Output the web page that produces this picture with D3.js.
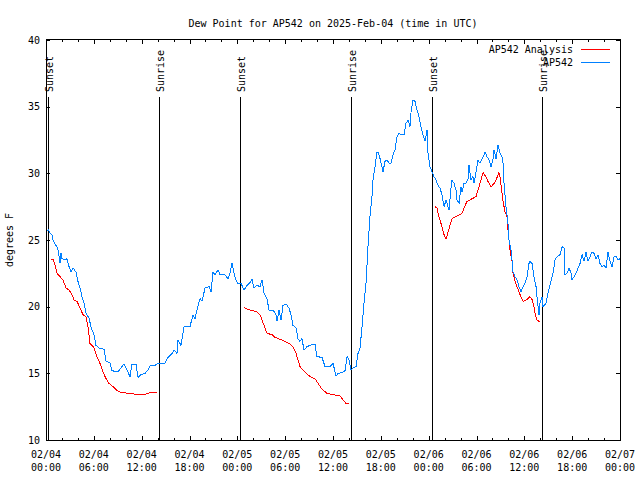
<!DOCTYPE html>
<html><head><meta charset="utf-8">
<script src="https://cdn.jsdelivr.net/npm/d3@7"></script>
<style>
body{margin:0;background:#fff}
svg text{font-family:"DejaVu Sans Mono",monospace;font-size:10px;fill:#000}
</style></head><body>
<svg id="c" width="640" height="480"></svg>
<script>
const title = "Dew Point for AP542 on 2025-Feb-04 (time in UTC)";
const yLabel = "degrees F";
const yTicks = [10, 15, 20, 25, 30, 35, 40];
const seriesNames = ["AP542 Analysis", "AP542"];
const seriesColors = ["#ff0000", "#0080ff"];
const sunHours = [0.25, 14.17, 24.33, 38.26, 48.42, 62.22];
const sunLabels = ["Sunset", "Sunrise", "Sunset", "Sunrise", "Sunset", "Sunrise"];

// hours after 2025-02-04 00:00 UTC
const blueHours = [0.13,0.29,0.50,0.75,0.88,1.13,1.38,1.51,1.76,1.88,2.01,2.38,2.63,2.89,3.14,3.39,3.76,4.01,4.26,4.52,4.77,5.02,5.39,5.64,5.77,6.02,6.27,6.65,7.28,7.53,8.03,8.28,9.03,9.41,9.78,10.16,10.54,10.79,11.29,11.54,11.92,12.42,12.79,13.05,13.67,13.92,14.30,14.93,15.18,15.81,16.06,16.43,16.56,16.93,17.31,18.06,18.44,18.69,18.94,19.32,19.57,19.95,20.45,20.70,20.95,21.20,21.58,21.83,22.45,22.83,23.08,23.33,23.58,23.83,24.08,24.46,24.84,25.21,25.59,25.84,26.09,26.47,26.84,27.10,27.35,27.72,27.97,28.47,28.85,28.98,29.23,29.48,29.73,30.11,30.48,30.73,30.98,31.36,31.61,31.86,32.11,32.36,32.74,33.12,33.74,33.99,34.62,35.00,35.62,36.00,36.38,36.63,37.13,37.51,37.76,38.01,38.26,38.51,38.89,39.14,39.39,39.64,39.89,40.14,40.39,40.64,40.89,41.02,41.27,41.52,41.65,41.90,42.15,42.27,42.52,42.78,43.03,43.28,43.53,43.78,44.03,44.28,44.53,44.91,45.16,45.41,45.66,45.79,46.04,46.29,46.54,46.79,47.04,47.29,47.54,47.79,47.92,48.17,48.42,48.67,48.92,49.17,49.42,49.67,49.93,50.18,50.43,50.55,50.80,50.93,51.18,51.43,51.56,51.81,52.06,52.18,52.43,52.68,52.94,53.06,53.31,53.56,53.69,53.94,54.19,54.44,54.69,54.94,55.07,55.32,55.57,55.82,56.07,56.20,56.45,56.70,56.95,57.20,57.33,57.45,57.70,57.95,58.08,58.33,58.46,58.58,58.83,59.08,59.33,59.58,59.84,60.09,60.34,60.59,60.71,60.96,61.21,61.47,61.59,61.72,61.84,61.97,62.22,62.34,62.72,62.97,63.22,63.60,63.85,64.10,64.48,64.73,64.98,65.10,65.35,65.61,65.86,65.98,66.23,66.48,66.73,66.99,67.24,67.49,67.74,67.99,68.24,68.49,68.74,68.99,69.24,69.49,69.74,70.00,70.25,70.50,70.75,71.00,71.25,71.50,71.75,72.00];
const blueValues = [25.7,25.75,25.5,25.4,25.0,24.7,24.5,24.25,23.3,24.0,23.6,23.5,23.6,23.0,22.6,22.9,22.6,21.9,21.4,20.75,20.3,19.5,19.15,18.5,18.25,17.9,17.1,16.9,16.8,15.9,15.8,15.2,15.1,15.4,15.7,15.25,14.75,15.7,15.7,14.7,14.9,15.0,15.25,15.55,15.6,15.7,15.75,15.75,16.1,16.5,16.75,16.5,17.5,17.1,18.5,18.5,19.4,19.1,19.75,20.6,20.4,21.4,21.5,21.1,22.6,22.4,22.75,22.4,22.4,22.1,22.5,23.3,22.5,22.0,21.75,21.75,21.25,21.6,21.8,22.05,21.4,21.6,21.5,22.0,21.0,20.6,19.75,19.75,19.4,18.9,19.75,19.0,20.1,20.2,19.9,19.4,18.6,18.4,17.6,17.4,17.6,16.75,17.0,17.1,17.2,16.25,16.2,15.5,15.5,15.75,14.8,15.0,15.05,15.2,16.25,16.0,15.25,15.4,15.5,16.5,16.9,18.5,20.25,21.75,24.5,26.75,28.25,29.5,30.5,31.6,31.6,31.1,30.5,30.1,30.9,31.0,30.75,30.75,31.4,31.75,32.75,33.0,32.9,32.9,33.75,34.0,33.5,34.6,35.5,35.4,34.75,34.25,33.5,32.9,32.4,33.25,31.5,30.5,30.1,29.75,29.5,29.1,28.9,28.4,27.5,28.0,27.5,27.25,28.9,29.5,29.25,28.75,28.0,27.75,29.0,28.6,29.25,29.25,29.6,30.6,29.5,29.75,29.25,30.1,31.0,30.75,31.1,31.4,31.6,31.25,31.0,30.5,31.1,31.75,31.1,32.1,31.5,31.25,30.75,29.25,27.5,26.25,25.0,24.25,23.5,22.6,22.25,22.0,21.5,21.1,21.5,21.75,22.25,23.25,23.4,23.25,22.25,21.5,20.75,20.0,19.4,20.3,20.75,20.0,20.25,21.0,21.6,22.5,23.5,23.75,23.9,24.5,24.4,22.4,22.5,22.9,22.5,22.0,22.25,22.5,22.9,23.25,23.9,23.4,24.1,23.4,23.75,24.1,24.0,23.6,23.9,23.25,23.0,23.1,22.9,24.1,23.4,23.0,23.75,23.75,23.5,23.6];

// null marks a gap in the analysis series
const redHours = [0.63,0.88,1.13,1.38,1.76,2.13,2.51,2.89,3.26,3.51,3.89,4.26,4.64,5.02,5.27,5.52,5.77,6.02,6.40,6.77,7.15,7.53,7.90,8.40,8.91,9.53,10.54,11.42,12.54,13.05,13.92,
  null,
  24.84,25.34,25.84,26.34,26.84,27.10,27.47,27.72,28.35,28.73,29.35,29.98,30.61,30.98,31.36,31.61,31.86,32.49,33.12,33.74,34.12,34.62,35.25,36.00,36.88,37.26,37.63,38.01,
  null,
  48.80,49.05,49.17,49.42,49.67,49.93,50.18,50.43,50.68,50.93,51.43,51.93,52.18,52.43,52.81,53.31,53.94,54.19,54.44,54.82,55.19,55.44,55.82,56.20,56.45,56.82,56.95,57.20,57.33,57.58,57.83,57.95,58.20,58.46,58.58,58.83,59.08,59.33,59.58,59.84,60.21,60.46,60.71,60.96,61.21,61.34,61.59,61.84,61.97];
const redValues = [23.55,23.55,23.1,22.5,22.25,22.0,21.4,21.25,20.9,20.5,20.4,19.9,19.4,19.25,18.5,17.25,17.1,16.9,16.25,15.75,15.1,14.6,14.25,14.0,13.7,13.55,13.5,13.4,13.45,13.55,13.6,
  null,
  19.95,19.8,19.7,19.65,19.4,19.0,18.4,18.0,17.9,17.7,17.55,17.4,17.2,17.0,16.5,16.0,15.5,15.1,14.75,14.6,14.25,13.8,13.5,13.4,13.3,13.0,12.75,12.7,
  null,
  27.5,27.4,27.0,26.5,26.0,25.4,25.05,25.6,26.1,26.6,26.75,26.9,27.0,27.4,27.9,28.05,28.25,28.75,29.25,30.05,29.75,29.4,28.95,29.25,29.5,30.05,29.75,28.5,27.9,27.1,26.75,25.75,24.25,23.4,22.5,21.9,21.5,21.1,20.75,20.4,20.5,20.6,20.75,20.55,20.0,19.5,19.0,18.9,18.9];

const base = Date.UTC(2025, 1, 4);
const toDate = h => new Date(base + h * 3600e3);
const W = 640, H = 480, L = 46, R = 620, T = 40, B = 440;
const x = d3.scaleUtc().domain([toDate(0), toDate(72)]).range([L, R]);
const y = d3.scaleLinear().domain([10, 40]).range([B, T]);
const svg = d3.select("#c");
svg.append("rect").attr("width", W).attr("height", H).attr("fill", "#fff");

// title
svg.append("text").attr("x", 333).attr("y", 27).attr("text-anchor", "middle").text(title);
// y label
svg.append("text").attr("transform", "translate(13,240) rotate(-90)").attr("text-anchor", "middle").text(yLabel);

const majorX = d3.utcHour.every(6), minorX = d3.utcHour.every(2);
function styleAxis(g) {
  g.select(".domain").remove();
  g.selectAll("line").attr("stroke", "#000").attr("shape-rendering", "crispEdges");
  g.selectAll("text").remove();
}
svg.append("g").attr("transform", `translate(0,${B})`).call(d3.axisBottom(x).ticks(minorX).tickSizeInner(-2).tickSizeOuter(0)).call(styleAxis);
svg.append("g").attr("transform", `translate(0,${B})`).call(d3.axisBottom(x).ticks(majorX).tickSizeInner(-4).tickSizeOuter(0)).call(styleAxis);
svg.append("g").attr("transform", `translate(0,${T})`).call(d3.axisTop(x).ticks(minorX).tickSizeInner(-2).tickSizeOuter(0)).call(styleAxis);
svg.append("g").attr("transform", `translate(0,${T})`).call(d3.axisTop(x).ticks(majorX).tickSizeInner(-4).tickSizeOuter(0)).call(styleAxis);
svg.append("g").attr("transform", `translate(${L},0)`).call(d3.axisLeft(y).tickValues(yTicks).tickSizeInner(-4).tickSizeOuter(0)).call(styleAxis);
svg.append("g").attr("transform", `translate(${R},0)`).call(d3.axisRight(y).tickValues(yTicks).tickSizeInner(-4).tickSizeOuter(0)).call(styleAxis);

// y tick labels
svg.append("g").selectAll("text").data(yTicks).join("text")
  .attr("x", 40).attr("y", d => y(d) + 3.5).attr("text-anchor", "end").text(d => d);

// x tick labels
const fmtD = d3.utcFormat("%m/%d"), fmtT = d3.utcFormat("%H:%M");
const xl = svg.append("g").selectAll("g").data(x.ticks(majorX)).join("g")
  .attr("transform", d => `translate(${x(d)},0)`);
xl.append("text").attr("y", 458).attr("text-anchor", "middle").text(d => fmtD(d));
xl.append("text").attr("y", 471).attr("text-anchor", "middle").text(d => fmtT(d));

// border
svg.append("rect").attr("x", L + 0.5).attr("y", T - 0.5).attr("width", R - L).attr("height", B - T + 1)
  .attr("fill", "none").attr("stroke", "#000").attr("shape-rendering", "crispEdges");

// sun lines
const sun = svg.append("g").selectAll("g").data(sunHours.map((h, i) => ({h, label: sunLabels[i]}))).join("g");
sun.append("line")
  .attr("x1", d => Math.round(x(toDate(d.h))) + 0.5).attr("x2", d => Math.round(x(toDate(d.h))) + 0.5)
  .attr("y1", 97).attr("y2", B).attr("stroke", "#000").attr("shape-rendering", "crispEdges");
sun.append("text")
  .attr("transform", d => `translate(${Math.round(x(toDate(d.h))) + 4.5},92) rotate(-90)`)
  .text(d => d.label);

// series
const red = redHours.map((h, i) => ({h, v: redValues[i]}));
const blue = blueHours.map((h, i) => ({h, v: blueValues[i]}));
const line = d3.line().defined(d => d.h != null && d.v != null)
  .x(d => x(toDate(d.h))).y(d => y(d.v));
svg.append("path").datum(red).attr("d", line).attr("fill", "none")
  .attr("stroke", seriesColors[0]).attr("stroke-width", 1).attr("shape-rendering", "crispEdges");
svg.append("path").datum(blue).attr("d", line).attr("fill", "none")
  .attr("stroke", seriesColors[1]).attr("stroke-width", 1).attr("shape-rendering", "crispEdges");

// legend
const legY = [49.5, 62.5];
const leg = svg.append("g").selectAll("g").data(seriesNames).join("g");
leg.append("text").attr("x", 573).attr("y", (d, i) => legY[i] + 3.5).attr("text-anchor", "end").text(d => d);
leg.append("line").attr("x1", 581).attr("x2", 610).attr("y1", (d, i) => legY[i]).attr("y2", (d, i) => legY[i])
  .attr("stroke", (d, i) => seriesColors[i]).attr("shape-rendering", "crispEdges");
</script>
</body></html>
